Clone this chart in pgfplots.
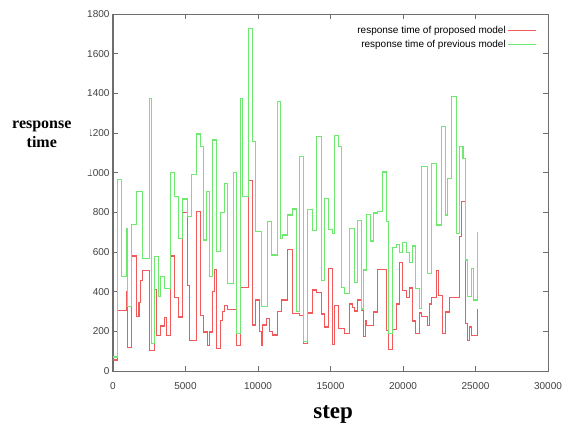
\documentclass[border=0pt]{standalone}
\usepackage{pgfplots}
\pgfplotsset{compat=1.18}
\usepackage{fontspec}
\setmainfont{Liberation Serif}
\setsansfont{Liberation Sans}
\definecolor{pred}{RGB}{240,90,90}
\definecolor{pgreen}{RGB}{110,232,110}
\definecolor{axgray}{RGB}{110,110,110}
\begin{document}
\begin{tikzpicture}
\begin{axis}[
  at={(0pt,0pt)}, anchor=south west,
  scale only axis, width=435pt, height=357pt,
  xmin=0, xmax=30000, ymin=0, ymax=1800,
  xtick distance=5000, ytick distance=200,
  scaled x ticks=false, scaled y ticks=false,
  /pgf/number format/set thousands separator={},
  /pgf/number format/assume math mode=true,
  tick align=inside, major tick length=5pt,
  axis line style={axgray, line width=1pt},
  every tick/.style={axgray, line width=0.8pt},
  tick label style={font=\sffamily\fontsize{10}{12}\selectfont, text=black!75},
  xticklabel style={yshift=-8pt},
  xlabel={step},
  every axis x label/.style={at={(axis description cs:0.506,0)}, anchor=center, yshift=-43pt, font=\bfseries\fontsize{23}{26}\selectfont},
  ylabel={\begin{tabular}[t]{@{}c@{}}response\\[1pt]time\end{tabular}},
  every axis y label/.style={at={(axis description cs:-0.2368,0.72)}, anchor=north west, fill=white, inner sep=2pt, text depth=44pt, text width=76pt, align=left, font=\bfseries\fontsize{16}{18}\selectfont},
  legend style={draw=none, fill=none, at={(axis description cs:1,1)}, anchor=north east, xshift=-8pt, yshift=-8pt, font=\sffamily\fontsize{10}{12}\selectfont, row sep=1pt},
  legend cell align=right,
  legend plot pos=right,
  legend image code/.code={\draw[#1, line width=1pt] (0pt,0pt) -- (28pt,0pt);},
]
\addplot[const plot, pred, line width=1.25pt] coordinates {
(0,55)(334,305)(909,400)(1023,117)(1299,580)(1644,275)(1786,347)(1878,455)(2058,505)(2518,105)(2863,410)(3023,180)(3254,227)(3553,268)(3664,180)(3943,580)(4242,372)(4518,272)(4771,800)(5162,430)(5267,155)(5736,805)(6012,280)(6250,197)(6527,130)(6650,197)(6886,400)(6985,510)(7115,113)(7391,255)(7557,300)(7690,330)(7920,310)(8541,130)(8771,420)(9368,960)(9598,232)(9828,358)(10104,200)(10220,131)(10334,232)(10564,266)(10794,198)(11024,182)(11370,299)(11599,358)(12060,613)(12403,291)(12863,280)(13120,138)(13400,292)(13783,408)(14013,397)(14357,288)(14600,222)(14886,518)(15116,135)(15277,330)(15576,213)(15967,188)(16312,338)(16495,322)(16656,302)(16880,358)(17116,305)(17277,175)(17415,255)(17507,230)(17980,297)(18266,513)(18870,205)(19000,108)(19254,208)(19530,338)(19760,547)(19990,405)(20220,372)(20450,418)(20634,252)(20864,188)(21140,292)(21300,275)(21670,230)(21829,338)(21990,372)(22335,508)(22473,380)(22749,188)(22933,297)(23209,372)(23554,372)(23899,680)(24013,855)(24290,238)(24473,155)(24588,222)(24703,180)(25150,313)
};
\addlegendentry{response time of proposed model}
\addplot[const plot, pgreen, line width=1.25pt] coordinates {
(0,70)(334,966)(610,476)(909,719)(1023,324)(1299,740)(1644,904)(2058,568)(2518,1375)(2679,140)(2863,576)(3139,375)(3254,476)(3553,417)(3943,1002)(4242,879)(4518,669)(4771,867)(5162,778)(5392,992)(5736,1195)(6012,1131)(6250,660)(6426,904)(6650,476)(6886,1165)(7115,602)(7391,800)(7690,945)(7920,442)(8300,1000)(8541,190)(8771,1375)(8955,880)(9368,1728)(9598,1156)(9828,703)(10220,324)(10680,753)(10910,585)(11370,1358)(11530,669)(11670,686)(12060,787)(12403,817)(12633,299)(12863,1081)(13120,150)(13400,813)(13783,708)(14013,1181)(14357,455)(14600,870)(14886,713)(15116,692)(15277,1187)(15576,1131)(15737,420)(15967,392)(16312,718)(16656,447)(16880,758)(17116,313)(17277,509)(17507,788)(17750,655)(17980,797)(18266,805)(18590,1003)(18870,755)(19000,190)(19254,622)(19530,638)(19760,597)(19990,647)(20220,597)(20450,547)(20634,630)(20864,417)(21140,316)(21300,1030)(21670,493)(21990,1047)(22335,736)(22634,1232)(22933,787)(23094,972)(23370,1383)(23669,694)(23899,1131)(24129,1072)(24290,560)(24473,375)(24703,518)(24887,358)(25150,703)
};
\addlegendentry{response time of previous model}
\end{axis}
\pgfresetboundingbox
\path (-113pt,-58pt) rectangle (456pt,371pt);
\end{tikzpicture}
\end{document}
